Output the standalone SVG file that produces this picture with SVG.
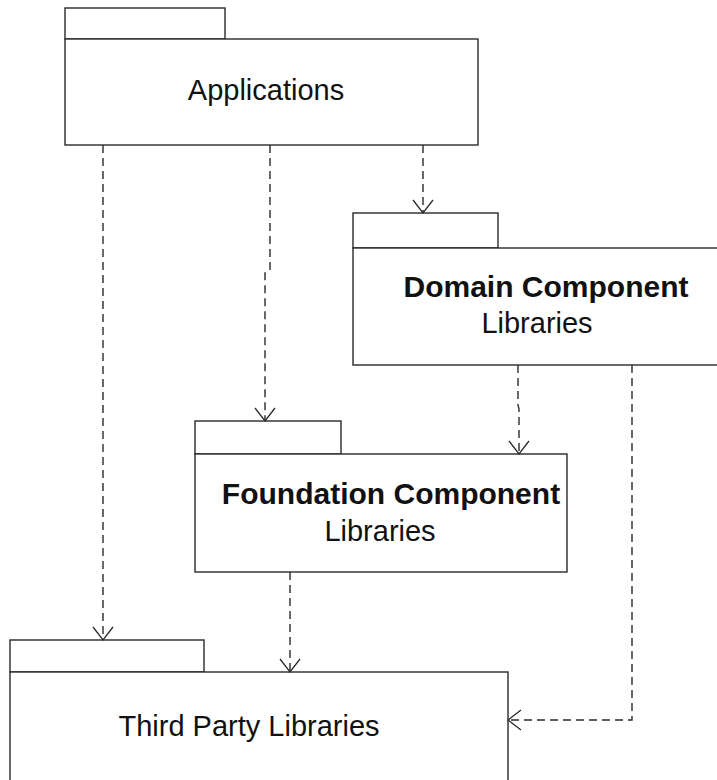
<svg xmlns="http://www.w3.org/2000/svg" width="717" height="780" viewBox="0 0 717 780">
  <style>
    .pkg { fill: #ffffff; stroke: #2a2a2a; stroke-width: 1.4; }
    .lbl { font-family: "Liberation Sans", Arial, sans-serif; font-size: 29px; fill: #111111; text-anchor: middle; }
    .bold { font-weight: bold; font-size: 30px; }
    .dep { fill: none; stroke: #2a2a2a; stroke-width: 1.4; stroke-dasharray: 8 5; }
  </style>
  <defs>
    <marker id="open" markerUnits="userSpaceOnUse" markerWidth="30" markerHeight="30" refX="0" refY="0" viewBox="-15 -15 30 30" orient="auto" overflow="visible">
      <path d="M-13,-10 L0,0 L-13,10" fill="none" stroke="#2a2a2a" stroke-width="1.3"/>
    </marker>
  </defs>
  <rect width="717" height="780" fill="#ffffff"/>

  <g id="applications">
    <rect class="pkg" x="65" y="8" width="160" height="31"/>
    <rect class="pkg" x="65" y="39" width="413" height="106"/>
    <text class="lbl" x="266" y="100">Applications</text>
  </g>

  <g id="domain-component">
    <rect class="pkg" x="353" y="213" width="145" height="35"/>
    <rect class="pkg" x="353" y="248" width="380" height="117"/>
    <text class="lbl bold" x="546" y="297">Domain Component</text>
    <text class="lbl" x="537" y="333">Libraries</text>
  </g>

  <g id="foundation-component">
    <rect class="pkg" x="195" y="421" width="146" height="33"/>
    <rect class="pkg" x="195" y="454" width="372" height="118"/>
    <text class="lbl bold" x="391" y="504">Foundation Component</text>
    <text class="lbl" x="380" y="541">Libraries</text>
  </g>

  <g id="third-party">
    <rect class="pkg" x="10" y="640" width="194" height="32"/>
    <rect class="pkg" x="10" y="672" width="498" height="130"/>
    <text class="lbl" x="249" y="736">Third Party Libraries</text>
  </g>

  <g id="connectors">
    <path class="dep" d="M103,145 V640" marker-end="url(#open)"/>
    <path class="dep" d="M270,145 V270 L265,273 V421" marker-end="url(#open)"/>
    <path class="dep" d="M423,145 V213" marker-end="url(#open)"/>
    <path class="dep" d="M518,365 V405 L519,409 V454" marker-end="url(#open)"/>
    <path class="dep" d="M632,365 V720 H508" marker-end="url(#open)"/>
    <path class="dep" d="M290,572 V672" marker-end="url(#open)"/>
  </g>
</svg>
